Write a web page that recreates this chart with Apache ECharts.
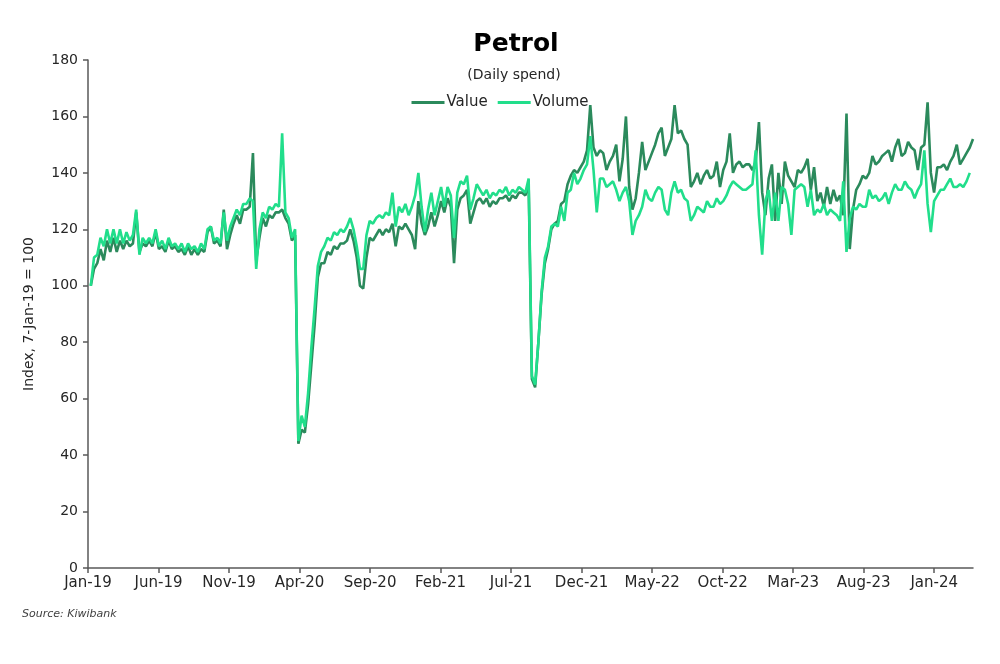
<!DOCTYPE html>
<html>
<head>
<meta charset="utf-8">
<script src="https://cdn.jsdelivr.net/npm/echarts@6/dist/echarts.min.js"></script>
<style>
html,body{margin:0;padding:0;background:#fff;}
#chart{width:1000px;height:664px;}
</style>
</head>
<body>
<div id="chart"></div>
<script>
// Weekly observations starting 7-Jan-2019 (index base = 100)
const startDay = 6; // days after 1-Jan-2019
const stepDays = 7;

const tickLabels = ['Jan-19','Jun-19','Nov-19','Apr-20','Sep-20','Feb-21','Jul-21','Dec-21','May-22','Oct-22','Mar-23','Aug-23','Jan-24'];

const valueSeries = [
100,106,108,113,109,116,112,117,112,116,113,116,114,115,126,112,115,114,116,114,
119,113,114,112,116,113,114,112,113,111,114,111,113,111,113,112,119,121,115,116,
114,127,113,118,122,125,122,127,127,128,147,109,117,124,121,125,124,126,126,127,
124,122,116,118,44,49,48,58,72,86,103,108,108,112,111,114,113,115,115,116,
120,116,110,100,99,110,117,116,118,120,118,120,119,122,114,121,120,122,120,118,
113,130,122,118,121,126,121,125,130,126,131,128,108,127,131,132,134,122,126,130,
131,129,131,128,130,129,131,131,132,130,132,131,133,133,132,136,67,64,80,97,
108,113,120,122,123,129,130,136,139,141,140,142,144,148,164,149,146,148,147,141,
144,146,150,137,145,160,135,127,131,140,151,141,144,147,150,154,156,146,149,152,
164,154,155,152,150,135,137,140,136,139,141,138,139,144,135,141,144,154,140,143,
144,142,143,143,141,144,158,133,125,138,143,123,140,129,144,139,137,135,141,140,
142,145,134,142,130,133,128,135,129,134,130,132,125,161,113,127,134,136,139,138,
140,146,143,144,146,147,148,144,149,152,146,147,151,149,148,141,149,150,165,140,
133,142,142,143,141,144,146,150,143,145,147,149,152
];

const volumeSeries = [
100,110,111,117,114,120,115,120,115,120,115,119,116,118,127,111,117,115,117,115,
120,114,116,113,117,114,115,113,115,112,115,113,114,112,115,113,120,121,116,117,
115,126,116,121,124,127,125,129,129,131,130,106,120,126,124,128,127,129,128,154,
126,124,117,120,45,54,50,62,78,92,107,112,114,117,116,119,118,120,119,121,
124,120,114,106,106,118,123,122,124,125,124,126,125,133,121,128,126,129,125,128,
132,140,128,119,127,133,125,130,135,128,135,132,117,133,137,136,139,127,131,136,
134,132,134,131,133,132,134,133,135,132,134,133,135,134,133,138,68,65,80,98,
110,114,121,122,121,128,123,133,134,140,136,138,141,143,153,141,126,138,138,135,
136,137,134,130,133,135,130,118,123,125,128,134,131,130,133,135,134,127,125,133,
137,133,134,131,130,123,125,128,127,126,130,128,128,131,129,130,132,135,137,136,
135,134,134,135,136,148,125,111,130,134,123,133,123,135,134,129,118,134,135,136,
135,128,134,125,127,126,129,125,127,126,125,123,137,112,124,128,127,129,128,128,
134,131,132,130,131,133,129,133,136,134,134,137,135,134,131,134,136,148,129,119,
130,132,134,134,136,138,135,135,136,135,137,140
];

const monthsPerDay = 1 / 30.4375;
function toPairs(arr) {
  return arr.map((v, i) => [(startDay + stepDays * i) * monthsPerDay, v]);
}
const lastMonth = (startDay + stepDays * (valueSeries.length - 1)) * monthsPerDay;

const FONT = 'DejaVu Sans';
const chart = echarts.init(document.getElementById('chart'), null, {renderer: 'canvas'});
chart.setOption({
  backgroundColor: '#ffffff',
  animation: false,
  textStyle: {fontFamily: FONT, color: '#262626'},
  title: [
    {text: 'Petrol', left: 511, top: 27, textAlign: 'center',
     textStyle: {fontFamily: FONT, fontSize: 25, fontWeight: 'bold', color: '#000'}},
    {text: '(Daily spend)', left: 509, top: 63, textAlign: 'center',
     textStyle: {fontFamily: FONT, fontSize: 14, fontWeight: 'normal', color: '#262626'}},
    {text: 'Source: Kiwibank', left: 17, top: 604,
     textStyle: {fontFamily: FONT, fontSize: 11, fontStyle: 'italic', fontWeight: 'normal', color: '#404040'}}
  ],
  legend: {
    top: 90, left: 'center',
    itemWidth: 33, itemHeight: 3, itemGap: 10,
    icon: 'rect',
    textStyle: {fontFamily: FONT, fontSize: 15, color: '#262626', padding: [0,0,0,-3]},
    data: ['Value', 'Volume']
  },
  grid: {left: 88, right: 27, top: 60, bottom: 96},
  xAxis: {
    type: 'value', min: 0, max: lastMonth, interval: 5,
    axisLine: {show: true, lineStyle: {color: '#595959', width: 1.5}},
    axisTick: {show: true, length: 5, lineStyle: {color: '#595959', width: 1.5}},
    splitLine: {show: false},
    axisLabel: {
      fontFamily: FONT, fontSize: 15, color: '#262626', margin: 8, showMaxLabel: false,
      formatter: v => { const k = Math.round(v / 5); return Math.abs(v - k * 5) < 1e-6 && tickLabels[k] ? tickLabels[k] : ''; }
    }
  },
  yAxis: {
    type: 'value', min: 0, max: 180, interval: 20,
    name: 'Index, 7-Jan-19 = 100', nameLocation: 'middle', nameGap: 52, nameRotate: 90,
    nameTextStyle: {fontFamily: FONT, fontSize: 14, color: '#262626'},
    axisLine: {show: true, lineStyle: {color: '#595959', width: 1.5}},
    axisTick: {show: true, length: 5, lineStyle: {color: '#595959', width: 1.5}},
    splitLine: {show: false},
    axisLabel: {fontFamily: FONT, fontSize: 14, color: '#262626', margin: 10}
  },
  series: [
    {name: 'Value', type: 'line', data: toPairs(valueSeries), symbol: 'none', showSymbol: false,
     lineStyle: {color: '#2b8a5c', width: 2.6}, itemStyle: {color: '#2b8a5c'}, z: 2},
    {name: 'Volume', type: 'line', data: toPairs(volumeSeries), symbol: 'none', showSymbol: false,
     lineStyle: {color: '#21de8b', width: 2.6}, itemStyle: {color: '#21de8b'}, z: 3}
  ]
});
</script>
</body>
</html>
